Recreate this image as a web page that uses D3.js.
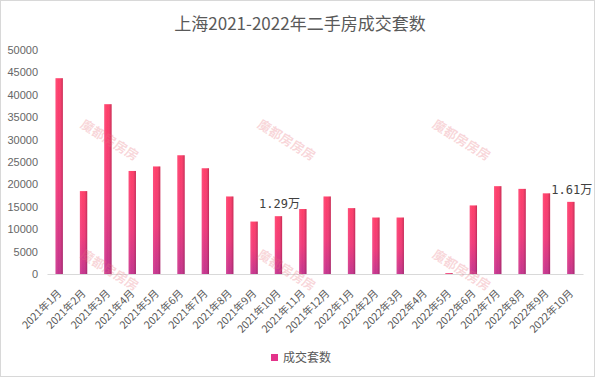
<!DOCTYPE html>
<html><head><meta charset="utf-8">
<script src="https://cdn.jsdelivr.net/npm/d3@7"></script>
<style>
html,body{margin:0;padding:0;background:#fff;}
svg{display:block;}
</style></head>
<body>
<svg id="chart" width="600" height="378"></svg>
<script>
const title = "上海2021-2022年二手房成交套数";
const seriesName = "成交套数";
const categories = ["2021年1月","2021年2月","2021年3月","2021年4月","2021年5月","2021年6月","2021年7月","2021年8月","2021年9月","2021年10月","2021年11月","2021年12月","2022年1月","2022年2月","2022年3月","2022年4月","2022年5月","2022年6月","2022年7月","2022年8月","2022年9月","2022年10月"];
const values = [43700,18500,37900,23000,24000,26500,23600,17300,11700,12900,14500,17300,14700,12600,12600,0,200,15300,19600,19000,18000,16100];
const yTicks = [0,5000,10000,15000,20000,25000,30000,35000,40000,45000,50000];
const annotations = [{cat:"2021年10月", text:"1.29万"},{cat:"2022年10月", text:"1.61万"}];
const watermark = "魔都房房房";

const svg = d3.select("#chart");
const W = 600, H = 378;
const m = {left:47, right:17, top:50, bottom:104};
const x = d3.scaleBand().domain(categories).range([m.left, W-m.right]).paddingInner(0.7).paddingOuter(0.35);
const y = d3.scaleLinear().domain([0,50000]).range([H-m.bottom, m.top]);

const defs = svg.append("defs");
const gv = defs.append("linearGradient").attr("id","gv").attr("x1",0).attr("y1",0).attr("x2",0).attr("y2",1);
gv.append("stop").attr("offset","0%").attr("stop-color","#ff3f68");
gv.append("stop").attr("offset","55%").attr("stop-color","#f03c7a");
gv.append("stop").attr("offset","100%").attr("stop-color","#c2358f");
const gh = defs.append("linearGradient").attr("id","gh").attr("x1",0).attr("y1",0).attr("x2",1).attr("y2",0);
gh.append("stop").attr("offset","0%").attr("stop-color","#ff80b0").attr("stop-opacity",0.25);
gh.append("stop").attr("offset","45%").attr("stop-color","#ff80b0").attr("stop-opacity",0);
gh.append("stop").attr("offset","100%").attr("stop-color","#5a0020").attr("stop-opacity",0.35);

// frame
svg.append("rect").attr("x",0.5).attr("y",0.5).attr("width",594).attr("height",376)
  .attr("fill","none").attr("stroke","#d8d8d8").attr("stroke-width",1);

svg.append("text").attr("x",300).attr("y",30).attr("text-anchor","middle")
  .attr("font-family","'Noto Sans CJK SC', sans-serif").attr("font-size",17)
  .attr("fill","#595959").text(title);

// y axis labels
const yAxis = d3.axisLeft(y).tickValues(yTicks).tickSize(0).tickPadding(9).tickFormat(d3.format("d"));
const ya = svg.append("g").attr("transform",`translate(${m.left},0)`).call(yAxis);
ya.select(".domain").remove();
ya.selectAll("text").attr("font-family","'Liberation Sans', Arial, sans-serif").attr("font-size",11).attr("fill","#666");

// baseline
const xAxis = d3.axisBottom(x).tickSize(0).tickFormat("");
const xa = svg.append("g").attr("transform",`translate(0,${y(0)})`).call(xAxis);
xa.select(".domain").attr("stroke","#d9d9d9").attr("stroke-width",1);

// x labels
svg.append("g").selectAll("text").data(categories).join("text")
  .attr("transform",d=>`translate(${x(d)+x.bandwidth()/2+3},${y(0)+20}) rotate(-45)`)
  .attr("text-anchor","end")
  .attr("font-family","'Noto Sans CJK SC', sans-serif").attr("font-size",10.5)
  .attr("fill","#595959").text(d=>d);

// bars
const bars = svg.append("g");
const data = categories.map((c,i)=>({c, v:values[i]}));
bars.selectAll("rect.b").data(data).join("rect").attr("class","b")
  .attr("x",d=>x(d.c)).attr("width",x.bandwidth())
  .attr("y",d=>y(d.v)).attr("height",d=>y(0)-y(d.v))
  .attr("fill","url(#gv)");
bars.selectAll("rect.s").data(data).join("rect").attr("class","s")
  .attr("x",d=>x(d.c)).attr("width",x.bandwidth())
  .attr("y",d=>y(d.v)).attr("height",d=>y(0)-y(d.v))
  .attr("fill","url(#gh)");

// annotations
svg.append("g").selectAll("text").data(annotations).join("text")
  .attr("x",d=>x(d.cat)+x.bandwidth()/2+1)
  .attr("y",d=>y(values[categories.indexOf(d.cat)])-8)
  .attr("text-anchor","middle")
  .attr("font-family","'DejaVu Sans Mono', 'Noto Sans CJK SC', monospace").attr("font-size",12)
  .attr("fill","#404040").text(d=>d.text);

// legend
const lg = svg.append("g");
lg.append("rect").attr("x",271).attr("y",354).attr("width",7).attr("height",7).attr("fill","#e3338a");
lg.append("text").attr("x",283).attr("y",362).attr("font-family","'Noto Sans CJK SC', sans-serif")
  .attr("font-size",12).attr("fill","#595959").text(seriesName);

// watermarks
const wmX = [109,286,461], wmY = [141,271];
const wm = svg.append("g");
wmY.forEach(yy=>wmX.forEach(xx=>{
  wm.append("text").attr("transform",`translate(${xx},${yy}) rotate(32)`)
    .attr("text-anchor","middle").attr("dominant-baseline","middle")
    .attr("font-family","'Noto Sans CJK SC', sans-serif").attr("font-size",13).attr("font-weight","bold")
    .attr("fill","#e8707a").attr("fill-opacity",0.28).text(watermark);
}));
</script>
</body></html>
